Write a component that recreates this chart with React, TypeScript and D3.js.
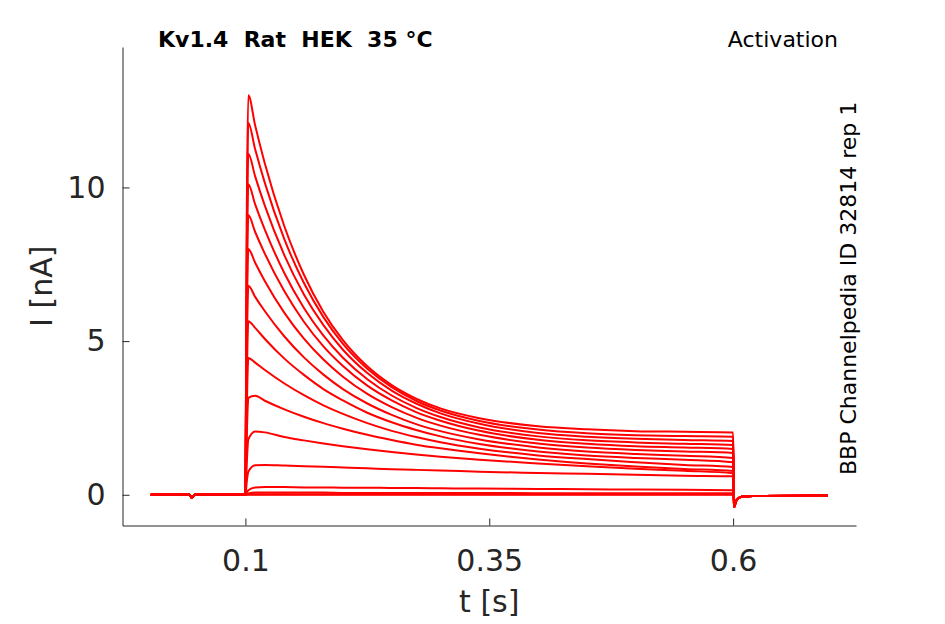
import { useEffect, useRef } from 'react';
import * as d3 from 'd3';

const WIDTH = 945;
const HEIGHT = 624;

// holding segment before the step (s, nA)
const preTimes = [0.003, 0.043, 0.045, 0.048, 0.1];
const preCurrent = [0, 0, -0.1, 0, 0];

// sample times during the voltage step (s)
const stepTimes = [
  0.1015, 0.103, 0.11, 0.12, 0.14, 0.16, 0.18, 0.2, 0.225, 0.25, 0.275, 0.3, 0.34, 0.4,
  0.45, 0.5, 0.55, 0.6,
];

// tail after the step back to holding
const tailTimes = [0.6012, 0.6025, 0.605, 0.61, 0.62, 0.697];
const tailCurrent = [-0.4, -0.25, -0.12, -0.06, -0.04, -0.03];

// current per sweep at stepTimes (nA)
const sweep1 = [9.5, 13.0, 12.02, 10.77, 8.73, 7.16, 5.95, 5.03, 4.18, 3.57, 3.13, 2.81, 2.49, 2.23, 2.13, 2.07, 2.05, 2.03];
const sweep2 = [8.8, 12.1, 11.24, 10.14, 8.31, 6.89, 5.78, 4.91, 4.1, 3.5, 3.06, 2.74, 2.4, 2.12, 2.0, 1.94, 1.91, 1.89];
const sweep3 = [8.1, 11.1, 10.36, 9.4, 7.79, 6.52, 5.52, 4.72, 3.96, 3.39, 2.97, 2.65, 2.31, 2.01, 1.89, 1.82, 1.78, 1.75];
const sweep4 = [7.3, 10.1, 9.45, 8.62, 7.21, 6.08, 5.18, 4.46, 3.76, 3.23, 2.83, 2.53, 2.19, 1.9, 1.77, 1.7, 1.66, 1.62];
const sweep5 = [6.5, 9.1, 8.55, 7.84, 6.62, 5.63, 4.83, 4.19, 3.55, 3.07, 2.69, 2.41, 2.08, 1.79, 1.66, 1.58, 1.54, 1.49];
const sweep6 = [5.6, 8.0, 7.55, 6.95, 5.92, 5.08, 4.4, 3.84, 3.28, 2.85, 2.51, 2.25, 1.95, 1.67, 1.54, 1.46, 1.41, 1.36];
const sweep7 = [4.7, 6.8, 6.44, 5.97, 5.15, 4.47, 3.91, 3.44, 2.97, 2.6, 2.3, 2.07, 1.8, 1.54, 1.41, 1.33, 1.27, 1.2];
const sweep8 = [3.8, 5.65, 5.43, 5.07, 4.43, 3.9, 3.44, 3.07, 2.67, 2.36, 2.11, 1.9, 1.65, 1.41, 1.28, 1.2, 1.14, 1.06];
const sweep9 = [2.9, 4.45, 4.3, 4.06, 3.62, 3.24, 2.91, 2.63, 2.33, 2.08, 1.88, 1.71, 1.5, 1.28, 1.16, 1.06, 0.97, 0.9];
const sweep10 = [2.0, 3.15, 3.22, 3.06, 2.78, 2.54, 2.33, 2.15, 1.95, 1.78, 1.63, 1.51, 1.35, 1.15, 1.02, 0.92, 0.84, 0.77];
const sweep11 = [1.1, 1.8, 2.06, 2.03, 1.88, 1.77, 1.67, 1.58, 1.48, 1.39, 1.31, 1.24, 1.14, 1.02, 0.93, 0.85, 0.78, 0.7];
const sweep12 = [0.45, 0.75, 0.96, 0.97, 0.95, 0.93, 0.91, 0.89, 0.86, 0.83, 0.81, 0.79, 0.75, 0.71, 0.68, 0.65, 0.62, 0.6];
const sweep13 = [0.08, 0.15, 0.24, 0.25, 0.25, 0.24, 0.24, 0.23, 0.23, 0.22, 0.22, 0.21, 0.2, 0.19, 0.18, 0.17, 0.16, 0.15];
const sweep14 = [0.02, 0.04, 0.07, 0.07, 0.07, 0.07, 0.07, 0.06, 0.06, 0.06, 0.06, 0.06, 0.06, 0.05, 0.05, 0.05, 0.05, 0.05];
const sweep15 = [0.01, 0.02, 0.02, 0.02, 0.02, 0.02, 0.02, 0.02, 0.02, 0.02, 0.02, 0.02, 0.02, 0.02, 0.02, 0.02, 0.02, 0.02];
const sweep16 = [0, 0, 0, 0, 0, 0, 0, 0, 0, 0, 0, 0, 0, 0, 0, 0, 0, 0];

const sweeps = [
  sweep16, sweep15, sweep14, sweep13, sweep12, sweep11, sweep10, sweep9,
  sweep8, sweep7, sweep6, sweep5, sweep4, sweep3, sweep2, sweep1,
];

const xTicks = [0.1, 0.35, 0.6];
const yTicks = [0, 5, 10];

const FONT = 'DejaVu Sans, sans-serif';
const INK = '#262626';

export default function App() {
  const svgRef = useRef<SVGSVGElement>(null);

  useEffect(() => {
    if (!svgRef.current) return;
    const svg = d3.select(svgRef.current);
    svg.selectAll('*').remove();

    const left = 122.5;
    const right = 856;
    const top = 47;
    const bottom = 525.5;

    const x = d3.scaleLinear().domain([-0.026, 0.726]).range([left, right]);
    const y = d3.scaleLinear().domain([-1.0, 14.57]).range([bottom, top]);

    const times = [...preTimes, ...stepTimes, ...tailTimes];

    const line = d3
      .line<number>()
      .x((_, i) => x(times[i]))
      .y((d) => y(d))
      .curve(d3.curveMonotoneX);

    // traces
    svg
      .append('g')
      .selectAll('path')
      .data(sweeps)
      .join('path')
      .attr('d', (s) => line([...preCurrent, ...s, ...tailCurrent]))
      .attr('fill', 'none')
      .attr('stroke', '#ff0000')
      .attr('stroke-width', 2)
      .attr('stroke-linejoin', 'round');

    // x axis
    const gx = svg
      .append('g')
      .attr('transform', `translate(0,${bottom})`)
      .call(
        d3
          .axisBottom(x)
          .tickValues(xTicks)
          .tickSizeInner(-7)
          .tickSizeOuter(0)
          .tickPadding(24)
          .tickFormat((d) => String(d))
      );

    // y axis
    const gy = svg
      .append('g')
      .attr('transform', `translate(${left},0)`)
      .call(
        d3
          .axisLeft(y)
          .tickValues(yTicks)
          .tickSizeInner(-7)
          .tickSizeOuter(0)
          .tickPadding(17)
          .tickFormat((d) => String(d))
      );

    [gx, gy].forEach((g) => {
      g.attr('font-family', FONT).attr('font-size', 30);
      g.selectAll('path, line').attr('stroke', INK).attr('stroke-width', 1);
      g.selectAll('text').attr('fill', INK);
    });

    // axis labels
    svg
      .append('text')
      .attr('x', (left + right) / 2)
      .attr('y', 612)
      .attr('text-anchor', 'middle')
      .style('font-family', FONT)
      .style('font-size', '30px')
      .style('fill', INK)
      .text('t [s]');

    svg
      .append('text')
      .attr('transform', `translate(52,${(top + bottom) / 2}) rotate(-90)`)
      .attr('text-anchor', 'middle')
      .style('font-family', FONT)
      .style('font-size', '30px')
      .style('fill', INK)
      .text('I [nA]');

    // title and annotations
    svg
      .append('text')
      .attr('x', 158)
      .attr('y', 46.5)
      .style('font-family', FONT)
      .style('font-size', '22px')
      .style('font-weight', '700')
      .style('fill', '#000')
      .style('white-space', 'pre')
      .text('Kv1.4  Rat  HEK  35 °C');

    svg
      .append('text')
      .attr('x', 838)
      .attr('y', 46.5)
      .attr('text-anchor', 'end')
      .style('font-family', FONT)
      .style('font-size', '22px')
      .style('fill', '#000')
      .text('Activation');

    svg
      .append('text')
      .attr('transform', 'translate(856,475) rotate(-90)')
      .style('font-family', FONT)
      .style('font-size', '22px')
      .style('fill', '#000')
      .text('BBP Channelpedia ID 32814 rep 1');
  }, []);

  return (
    <svg
      ref={svgRef}
      width={WIDTH}
      height={HEIGHT}
      style={{ position: 'absolute', left: 0, top: 0, background: '#fff' }}
    />
  );
}
